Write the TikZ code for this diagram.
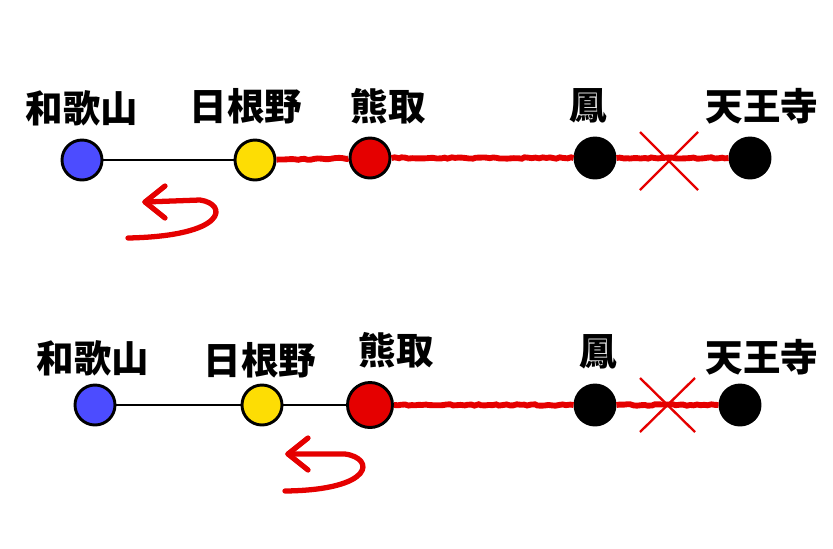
\documentclass[tikz,border=0pt]{standalone}
\usepackage{fontspec}
\newfontfamily\cjk{Noto Sans CJK JP}
\usetikzlibrary{positioning}
\usetikzlibrary{decorations.pathmorphing}

\begin{document}
\begin{tikzpicture}[x=0.03cm, y=-0.03cm,
	station/.style = { circle, draw, black, line width = 2.5pt, minimum width = 1.2cm, inner sep=0pt },
	label/.style = { font = \cjk\bfseries\fontsize{32}{36}\selectfont, inner sep=0pt },
	track/.style = { line width = 2pt, black },
	red track/.style = { line width = 5pt, red!90!black, decorate, decoration = {random steps, segment length=3pt, amplitude=0.6pt} },
	cross/.style = { line width = 2pt, red!90!black },
	uturn/.style = { line width = 4.5pt, red!90!black, line cap=round, line join=round },
	]
	\useasboundingbox (0,0) rectangle (833,548);

	% upper row
	\node[station, fill=blue!70!white] (WAKa) at (82,160) {};
	\node[station, fill=yellow!80!orange] (HINa) at (255,160) {};
	\node[station, fill=red!90!black] (KUMa) at (370,158) {};
	\node[station, fill=black] (OTOa) at (595,158) {};
	\node[station, fill=black] (TENa) at (750,158) {};

	\node[label] at (82,108) {和歌山};
	\node[label] at (246,106) {日根野};
	\node[label] at (388,106) {熊取};
	\node[label] at (588,106) {鳳};
	\node[label] at (762,106) {天王寺};

	\draw[track] (WAKa) -- (HINa);
	\draw[red track] (HINa) -- (KUMa);
	\draw[red track] (KUMa) -- (OTOa);
	\draw[red track] (OTOa) -- (TENa);

	\draw[cross] (640,132) -- (698,190);
	\draw[cross] (640,190) -- (698,132);

	\draw[uturn] (165,186) -- (145,202) -- (165,218);
	\draw[uturn] (145,202) -- (200,200) .. controls (228,204) and (228,236) .. (128,238);

	% lower row
	\node[station, fill=blue!70!white] (WAKb) at (95,405) {};
	\node[station, fill=yellow!80!orange] (HINb) at (262,405) {};
	\node[station, fill=red!90!black, minimum width=1.35cm] (KUMb) at (370,405) {};
	\node[station, fill=black] (OTOb) at (595,405) {};
	\node[station, fill=black] (TENb) at (740,405) {};

	\node[label] at (93,358) {和歌山};
	\node[label] at (260,360) {日根野};
	\node[label] at (396,350) {熊取};
	\node[label] at (598,352) {鳳};
	\node[label] at (762,357) {天王寺};

	\draw[track] (WAKb) -- (HINb);
	\draw[track] (HINb) -- (KUMb);
	\draw[red track] (KUMb) -- (OTOb);
	\draw[red track] (OTOb) -- (TENb);

	\draw[cross] (640,378) -- (695,432);
	\draw[cross] (640,432) -- (695,378);

	\draw[uturn] (308,438) -- (288,454) -- (308,470);
	\draw[uturn] (288,454) -- (345,454) .. controls (375,458) and (375,490) .. (285,491);
\end{tikzpicture}
\end{document}
